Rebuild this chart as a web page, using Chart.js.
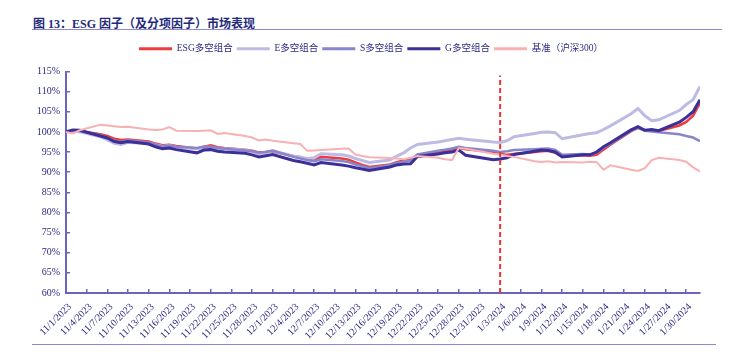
<!DOCTYPE html>
<html lang="zh-CN">
<head>
<meta charset="UTF-8" />
<title>ESG 因子（及分项因子）市场表现</title>
<script src="https://cdn.jsdelivr.net/npm/chart.js"></script>
<style>
  body { margin: 0; background: #fff; }
  .wrap { position: relative; width: 733px; height: 358px; }
  .title { position: absolute; left: 33px; top: 14px; font: bold 12px 'Liberation Serif', 'Noto Sans CJK SC', serif; color: #1f2a7c; white-space: nowrap; }
  .rule { position: absolute; left: 32px; height: 1px; background: #8d8ad0; }
  canvas { position: absolute; left: 0; top: 0; }
</style>
</head>
<body>
<div class="wrap">
  <div class="title">图 13：ESG 因子（及分项因子）市场表现</div>
  <div class="rule" style="top:29px;width:690px"></div>
  <div class="rule" style="top:344px;width:684px"></div>
  <canvas id="myChart" width="733" height="358"></canvas>
</div>

<script>
// trading days
const dates = [
  '11/1/2023','11/2/2023','11/3/2023','11/6/2023','11/7/2023','11/8/2023','11/9/2023','11/10/2023',
  '11/13/2023','11/14/2023','11/15/2023','11/16/2023','11/17/2023','11/20/2023','11/21/2023','11/22/2023',
  '11/23/2023','11/24/2023','11/27/2023','11/28/2023','11/29/2023','11/30/2023',
  '12/1/2023','12/4/2023','12/5/2023','12/6/2023','12/7/2023','12/8/2023','12/11/2023','12/12/2023',
  '12/13/2023','12/14/2023','12/15/2023','12/18/2023','12/19/2023','12/20/2023','12/21/2023','12/22/2023',
  '12/25/2023','12/26/2023','12/27/2023','12/28/2023','12/29/2023',
  '1/2/2024','1/3/2024','1/4/2024','1/5/2024','1/8/2024','1/9/2024','1/10/2024','1/11/2024','1/12/2024',
  '1/15/2024','1/16/2024','1/17/2024','1/18/2024','1/19/2024','1/22/2024','1/23/2024','1/24/2024',
  '1/25/2024','1/26/2024','1/29/2024','1/30/2024','1/31/2024','2/1/2024'
];

const seriesNames = ['ESG多空组合', 'E多空组合', 'S多空组合', 'G多空组合', '基准（沪深300）'];

// net value, %
const esg = [
  100.0,100.3,100.2,99.4,99.0,98.3,98.0,98.1,97.6,97.1,96.7,
  96.8,96.5,95.9,96.3,96.7,96.2,96.0,95.6,95.3,94.9,95.0,
  95.1,94.0,93.7,93.2,92.8,93.8,93.4,93.1,92.4,91.8,91.3,
  91.9,92.5,92.9,93.2,94.3,95.0,95.3,95.6,96.0,95.7,95.0,
  94.6,94.3,94.5,95.0,95.2,95.3,94.8,93.9,94.2,94.1,94.3,
  95.6,96.8,100.2,101.0,100.4,100.3,100.2,101.6,102.5,104.0,107.2
];
const eLS = [
  100.0,100.3,100.0,98.8,98.0,97.2,96.9,97.4,97.2,96.8,96.4,
  96.6,96.2,95.8,96.1,96.2,95.9,95.8,95.5,95.1,94.6,94.9,
  95.3,94.0,93.8,93.4,93.6,94.6,94.3,94.0,93.4,92.9,92.4,
  93.0,94.0,94.8,96.0,96.9,97.5,97.8,98.1,98.4,98.2,97.5,
  97.4,97.8,98.8,99.6,99.9,100.0,99.8,98.3,99.3,99.6,99.8,
  100.6,101.5,104.5,105.8,104.0,102.8,103.0,105.3,106.8,108.0,111.3
];
const sLS = [
  100.0,100.4,100.2,99.2,98.6,97.9,97.5,97.9,97.4,96.8,96.3,
  96.6,96.3,96.0,96.3,96.3,96.0,95.8,95.4,95.2,94.8,95.0,
  95.4,93.8,93.4,93.0,92.7,93.2,92.8,92.5,91.9,91.5,91.0,
  91.8,92.3,92.6,92.9,94.4,95.3,95.6,95.9,96.3,96.0,95.3,
  95.0,95.2,95.5,95.7,95.8,95.9,95.5,94.3,94.5,94.4,94.8,
  96.0,97.0,100.3,101.0,100.3,100.1,99.9,99.4,99.0,98.6,97.7
];
const gLS = [
  100.0,100.5,100.4,99.0,98.5,97.6,97.3,97.6,97.0,96.3,95.8,
  96.0,95.6,94.8,95.5,95.6,95.2,95.0,94.7,94.3,93.8,94.1,
  94.4,92.9,92.6,92.2,91.8,92.4,91.8,91.5,91.1,90.8,90.4,
  91.3,91.8,92.0,92.1,93.9,94.5,94.8,95.0,95.5,94.2,93.1,
  93.3,93.6,94.4,95.2,95.5,95.4,95.0,93.8,94.3,94.3,95.0,
  96.3,97.3,100.5,101.3,100.4,100.6,100.3,102.4,103.6,105.0,108.0
];
const hs300 = [
  100.0,99.6,100.4,101.8,101.6,101.4,101.2,101.3,100.6,100.5,100.6,
  101.2,100.3,100.2,100.3,100.4,99.5,99.7,99.0,98.6,97.9,98.1,
  97.8,97.2,97.0,95.3,95.4,95.5,95.8,95.9,94.4,94.0,93.7,
  93.5,93.4,93.2,93.6,94.0,93.6,93.2,93.0,96.0,95.8,94.6,
  94.4,94.0,93.8,92.7,92.5,92.7,92.4,92.5,92.4,92.6,92.5,
  90.6,91.7,90.6,90.3,91.0,93.0,93.6,93.0,92.6,91.2,90.2
];

const markDate = '1/3/2024';   // dashed divider
const yMin = 60, yMax = 115, yStep = 5, markTop = 114;
const dayStep = 3;             // one x label every 3 days

const colors = ['#ef3b3f', '#bdbbe3', '#8985ca', '#3b2f98', '#f7b1b3'];
const widths = [2.5, 3, 2.5, 3, 2];
const axisColor = '#6b63c2';
const textColor = '#2c2a85';
const fontFamily = "'Liberation Serif', 'Noto Sans CJK SC', serif";

const parseDate = (s) => {
  const p = s.split('/').map(Number);
  return new Date(p[2], p[0] - 1, p[1]);
};
const start = parseDate(dates[0]);
const dayIndex = (s) => Math.round((parseDate(s) - start) / 86400000);
const dayLabel = (i) => {
  const d = new Date(start.getFullYear(), start.getMonth(), start.getDate() + i);
  return (d.getMonth() + 1) + '/' + d.getDate() + '/' + d.getFullYear();
};
const xs = dates.map(dayIndex);
const lastDay = xs[xs.length - 1];

const allSeries = [esg, eLS, sLS, gLS, hs300];
const datasets = allSeries.map((vals, i) => ({
  label: seriesNames[i],
  data: vals.map((v, j) => ({ x: xs[j], y: v })),
  borderColor: colors[i],
  backgroundColor: colors[i],
  borderWidth: widths[i],
  pointRadius: 0,
  tension: 0,
  order: allSeries.length - i
}));
datasets.push({
  label: '',
  data: [{ x: dayIndex(markDate), y: yMin }, { x: dayIndex(markDate), y: markTop }],
  borderColor: '#ee3438',
  borderWidth: 2,
  borderDash: [5, 3],
  pointRadius: 0,
  order: 0
});

// legend in the original sits a bit right of the canvas centre
const legendNudge = {
  id: 'legendNudge',
  afterLayout(chart) {
    chart.legend.left += 19;
    chart.legend.right += 19;
  }
};

const ctx = document.getElementById('myChart');
new Chart(ctx, {
  type: 'line',
  data: { datasets: datasets },
  plugins: [legendNudge],
  options: {
    responsive: false,
    animation: false,
    layout: { padding: { left: 4, right: 33, top: 40, bottom: 0 } },
    plugins: {
      tooltip: { enabled: false },
      title: { display: false },
      subtitle: {
        // spacer between legend and plot
        display: true, text: '', weight: 500,
        font: { size: 1, lineHeight: 1 },
        padding: { top: 7, bottom: 0 }
      },
      legend: {
        position: 'top',
        labels: {
          boxWidth: 33,
          boxHeight: 3,
          padding: 4,
          color: textColor,
          font: { family: fontFamily, size: 9.5 },
          filter: (item) => item.text !== '',
          sort: (a, b) => a.datasetIndex - b.datasetIndex,
          generateLabels: (chart) =>
            Chart.defaults.plugins.legend.labels.generateLabels(chart).map((item) =>
              Object.assign(item, { fillStyle: item.strokeStyle, lineWidth: 0 }))
        }
      }
    },
    scales: {
      x: {
        type: 'linear',
        min: 0,
        max: lastDay,
        afterFit: (scale) => { scale.height = 65; },
        afterBuildTicks: (scale) => {
          const ticks = [];
          for (let v = 0; v <= lastDay; v += dayStep) ticks.push({ value: v });
          scale.ticks = ticks;
        },
        border: { display: true, color: axisColor, width: 2 },
        grid: { drawOnChartArea: false, color: axisColor, lineWidth: 1.5, tickLength: -4 },
        ticks: {
          autoSkip: false,
          maxRotation: 45,
          minRotation: 45,
          padding: 12,
          labelOffset: 4,
          color: textColor,
          font: { family: fontFamily, size: 10 },
          callback: (v) => dayLabel(v)
        }
      },
      y: {
        min: yMin,
        max: yMax,
        afterFit: (scale) => { scale.width = 62; },
        border: { display: true, color: axisColor, width: 2 },
        grid: { drawOnChartArea: false, color: axisColor, lineWidth: 1.5, tickLength: -4 },
        ticks: {
          stepSize: yStep,
          padding: 10,
          color: textColor,
          font: { family: fontFamily, size: 10 },
          callback: (v) => v + '%'
        }
      }
    }
  }
});
</script>
</body>
</html>
